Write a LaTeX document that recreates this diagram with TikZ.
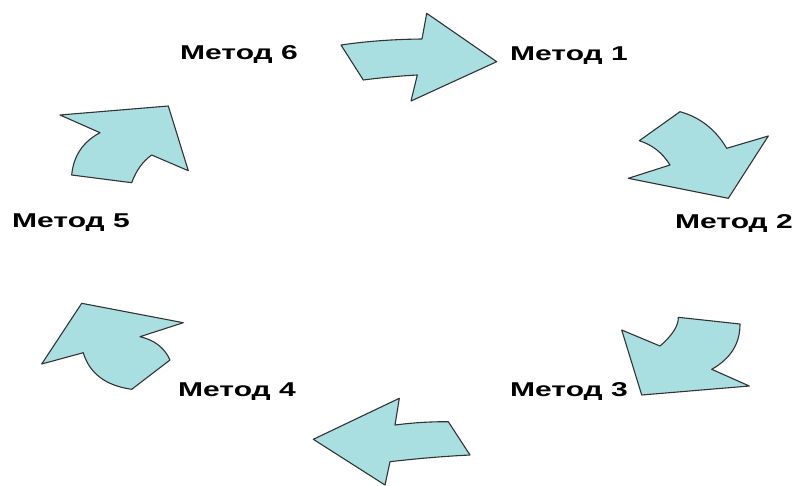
\documentclass[tikz,border=0pt]{standalone}
\usepackage{fontspec}
\setmainfont{Liberation Sans}
\definecolor{arrowfill}{HTML}{A9DFE1}
\definecolor{arrowline}{HTML}{333333}
\tikzset{
  cyclearrow/.style={fill=arrowfill, draw=arrowline, line width=1.1pt, line join=round},
  methodlabel/.style={anchor=base west, inner sep=0pt, font=\fontsize{20}{24}\selectfont\bfseries}
}
\newcommand{\widetext}[1]{\scalebox{1.5}[1]{#1}}
\begin{document}
\begin{tikzpicture}[x=1pt,y=-1pt]
\useasboundingbox (0,0) rectangle (800,485);
\fill[white] (0,0) rectangle (800,485);
% labels
\node[methodlabel] (m6) at (180,59) {\widetext{Метод 6}};
\node[methodlabel] (m1) at (510,60) {\widetext{Метод 1}};
\node[methodlabel] (m5) at (12,227) {\widetext{Метод 5}};
\node[methodlabel] (m2) at (675,228) {\widetext{Метод 2}};
\node[methodlabel] (m4) at (178,396) {\widetext{Метод 4}};
\node[methodlabel] (m3) at (510,396) {\widetext{Метод 3}};
% arrow 1 (Метод 6 -> Метод 1)
\draw[cyclearrow] (341,45) .. controls (366,41.3) and (393,39.3) .. (422,39) -- (426.7,13.3) -- (496.7,61.7)
  -- (411,101) -- (417.3,75) .. controls (398.9,76) and (380.9,77.7) .. (363.3,80) -- cycle;
% arrow 2 (Метод 1 -> Метод 2)
\draw[cyclearrow] (639.3,140.7) -- (680,111.7) .. controls (699.9,117.2) and (715.5,129.4) .. (726.7,148.3)
  -- (768.3,136) -- (728.3,198.3) -- (628.3,178.3) -- (670,165) .. controls (662.6,153) and (652.4,144.9) .. cycle;
% arrow 3 (Метод 2 -> Метод 3)
\draw[cyclearrow] (621.7,330) -- (660,346) .. controls (672.5,335.1) and (678.6,325.6) .. (678.3,317.3)
  -- (740,324) .. controls (740.1,343.5) and (730.7,358.6) .. (711.7,369.3) -- (749.3,386) -- (641.7,395) -- cycle;
% arrow 4 (Метод 3 -> Метод 4)
\draw[cyclearrow] (313.3,439.3) -- (399.3,398.3) -- (395,425) .. controls (412.8,422.7) and (430.6,421.6) .. (448.3,421.7)
  -- (470,455) .. controls (443.3,456.3) and (416.7,458.6) .. (390,461.7) -- (385,485) -- cycle;
% arrow 5 (Метод 4 -> Метод 5)
\draw[cyclearrow] (81.7,303.3) -- (183.3,322.7) -- (140,336.7) .. controls (154.5,340) and (164.5,347.8) .. (170,360)
  -- (131.7,389.3) .. controls (105.6,385.6) and (89.4,373.4) .. (83.3,352.7) -- (41.7,364) -- cycle;
% arrow 6 (Метод 5 -> Метод 6)
\draw[cyclearrow] (60,115) -- (168.3,106) -- (188.3,170.7) -- (151.7,155) .. controls (142.8,161.3) and (136.1,170.6) .. (131.7,182.7)
  -- (71.7,175) .. controls (73.4,155.8) and (83.1,141.7) .. (100,132.7) -- cycle;
\end{tikzpicture}
\end{document}
